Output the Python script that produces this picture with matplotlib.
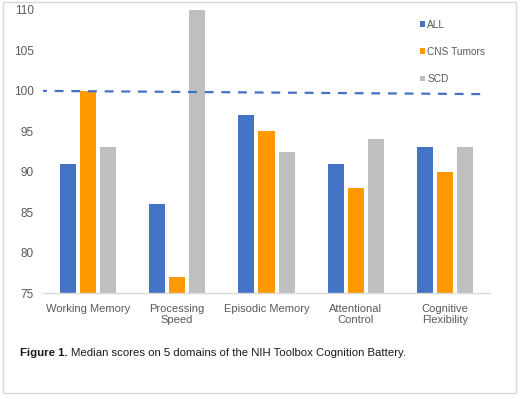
import matplotlib
matplotlib.use("Agg")
import matplotlib.pyplot as plt
from matplotlib.patches import Rectangle
import numpy as np

plt.rcParams['font.family'] = ['Liberation Sans', 'DejaVu Sans']

categories = ["Working Memory", "Processing\nSpeed", "Episodic Memory", "Attentional\nControl", "Cognitive\nFlexibility"]
series_names = ["ALL", "CNS Tumors", "SCD"]
all_vals = [91, 86, 97, 91, 93]
cns_vals = [100, 77, 95, 88, 90]
scd_vals = [93, 110, 92.5, 94, 93]
trend_y = [100.0, 99.6]
colors = ["#4472C4", "#FF9900", "#BFBFBF"]

fig = plt.figure(figsize=(5.2, 3.99), dpi=100)
fig.patches.append(Rectangle((3/520, 1-393/399), 513/520, 391/399, transform=fig.transFigure,
                             fill=False, edgecolor="#d9d9d9", linewidth=1.0))
ax = fig.add_axes([43/520, 1-293/399, 447/520, 283/399])

x = np.arange(len(categories))
w = 0.18
off = 0.225
for i, (vals, name, c) in enumerate(zip([all_vals, cns_vals, scd_vals], series_names, colors)):
    ax.bar(x + (i - 1) * off, np.array(vals) - 75, bottom=75, width=w, color=c, label=name)

ax.plot([-0.556, 4.39], trend_y, linestyle=(0, (4, 3.5)), color="#4472C4", linewidth=1.6)

ax.set_xlim(-0.5, 4.5)
ax.set_ylim(75, 110)
ax.set_yticks([75, 80, 85, 90, 95, 100, 105, 110])
ax.set_xticks(x)
ax.set_xticklabels(categories, fontsize=8, color="#595959", linespacing=1.1)
ax.tick_params(axis='y', labelsize=8.5, colors="#595959", length=0, pad=6.5)
ax.tick_params(axis='x', length=0, pad=8)
for s in ["top", "right", "left"]:
    ax.spines[s].set_visible(False)
ax.spines["bottom"].set_color("#d9d9d9")
ax.spines["bottom"].set_linewidth(1.0)

leg = ax.legend(loc="upper left", bbox_to_anchor=(0.843, 0.966), frameon=False, fontsize=7.3,
                handlelength=0.5, handleheight=0.5, handletextpad=0.25, labelspacing=1.7,
                borderpad=0, borderaxespad=0, labelcolor="#595959")

t1 = fig.text(20/520, 1-353/399, "Figure 1.", fontsize=8.2, fontweight="bold", color="#1a1a1a", va="center")
fig.canvas.draw()
bb = t1.get_window_extent()
fig.text((bb.x1 + 3) / 520, 1-353/399, "Median scores on 5 domains of the NIH Toolbox Cognition Battery.",
         fontsize=8.2, color="#1a1a1a", va="center")

fig.savefig("out.png", dpi=100)
